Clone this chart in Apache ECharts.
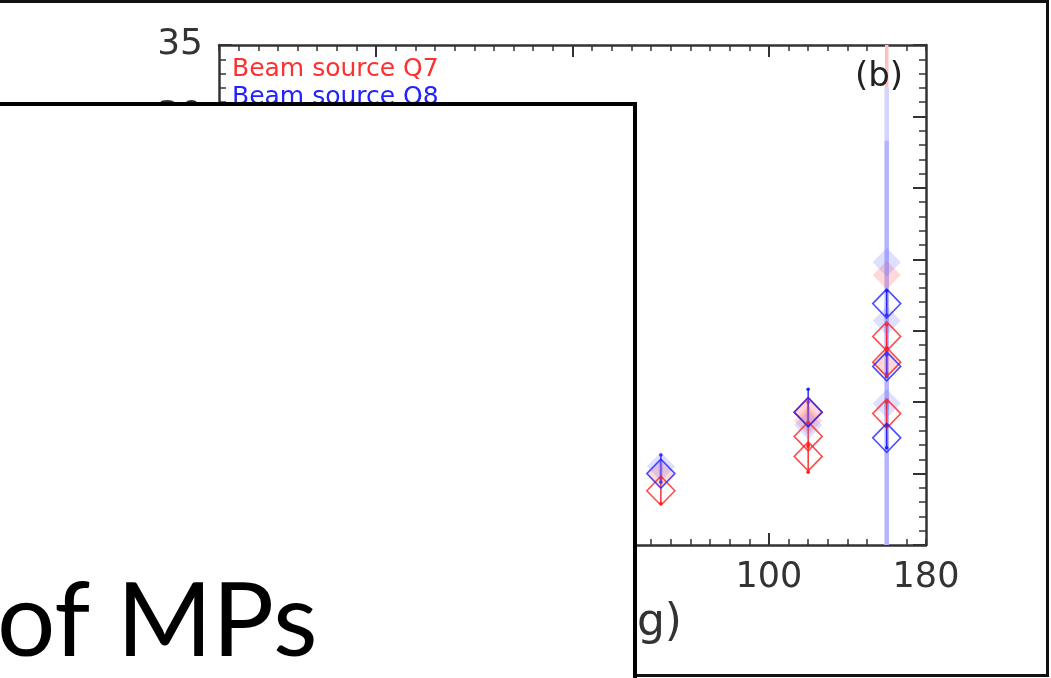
<!DOCTYPE html>
<html>
<head>
<meta charset="utf-8">
<script src="https://cdn.jsdelivr.net/npm/echarts@6/dist/echarts.min.js"></script>
<style>
html, body { margin: 0; padding: 0; background: #fff; }
#chart { width: 1051px; height: 678px; }
</style>
</head>
<body>
<div id="chart"></div>
<script>
// [angle, value, errLow, errHigh]
var q7Open = [[45, 3.8, 2.9, 4.7], [120, 9.3, 8.6, 10.0], [120, 7.6, 6.9, 8.4], [120, 6.2, 5.1, 7.0],
              [160, 14.6, 13.8, 15.4], [160, 12.8, 12.0, 13.6], [160, 9.2, 8.4, 10.0]];
var q8Open = [[45, 5.0, 4.4, 6.3], [120, 9.3, 8.4, 10.9], [160, 16.9, 16.1, 17.8],
              [160, 12.5, 11.8, 13.3], [160, 7.5, 6.8, 8.3]];
var q7Sim = [[45, 4.9, 4.5, 5.3], [120, 9.3, 8.9, 9.7], [120, 8.7, 8.3, 9.1],
             [160, 18.9, 10.0, 40.0], [160, 12.7, 12.3, 13.1]];
var q8Sim = [[45, 5.5, 5.1, 5.9], [120, 8.4, 8.0, 8.8], [160, 19.8, 0, 32.0],
             [160, 15.7, 0, 28.3], [160, 9.9, 9.5, 10.3]];

var xMajor = [-100, 0, 100];
var xLabels = [-180, -100, 0, 100, 180];
var legendNames = ['Beam source Q7', 'Beam source Q8'];
var xTitle = 'Angle (deg)';

var FONT = 'DejaVu Sans';

function errorBars(color, width, caps) {
  return function (params, api) {
    var x = api.value(0);
    var p1 = api.coord([x, api.value(2)]);
    var p2 = api.coord([x, api.value(3)]);
    var kids = [{
      type: 'line',
      shape: { x1: p1[0], y1: p1[1], x2: p2[0], y2: p2[1] },
      style: { stroke: color, lineWidth: width }
    }];
    if (caps) {
      kids.push({ type: 'circle', shape: { cx: p1[0], cy: p1[1], r: 1.8 }, style: { fill: color } });
      kids.push({ type: 'circle', shape: { cx: p2[0], cy: p2[1], r: 1.8 }, style: { fill: color } });
    }
    return { type: 'group', children: kids };
  };
}

function barSeries(data, color, width, caps) {
  return {
    type: 'custom', data: data, clip: true,
    renderItem: errorBars(color, width, caps),
    encode: { x: 0, y: 1 }, silent: true
  };
}

function markSeries(data, fill, stroke, bw) {
  return {
    type: 'scatter', data: data, symbol: 'diamond', symbolSize: [28, 29],
    itemStyle: { color: fill, borderColor: stroke, borderWidth: bw },
    silent: true
  };
}

var axisLine = { show: true, onZero: false, lineStyle: { color: '#333', width: 2.5 } };

var chart = echarts.init(document.getElementById('chart'));
var option = {
  animation: false,
  grid: { left: 219, right: 125, top: 45, bottom: 133 },
  xAxis: [
    {
      type: 'value', position: 'bottom', min: -180, max: 180,
      axisLine: axisLine,
      axisTick: { inside: true, length: 12, customValues: xMajor, lineStyle: { color: '#333', width: 2 } },
      axisLabel: { customValues: xLabels, fontSize: 35, color: '#333', fontFamily: FONT, margin: 15 },
      splitLine: { show: false }
    },
    {
      type: 'value', position: 'bottom', min: -180, max: 180, interval: 10,
      axisLine: { show: false, onZero: false },
      axisTick: { inside: true, length: 6, lineStyle: { color: '#333', width: 1.5 } },
      axisLabel: { show: false }, splitLine: { show: false }
    },
    {
      type: 'value', position: 'top', min: -180, max: 180,
      axisLine: axisLine,
      axisTick: { inside: true, length: 12, customValues: xMajor, lineStyle: { color: '#333', width: 2 } },
      axisLabel: { show: false }, splitLine: { show: false }
    },
    {
      type: 'value', position: 'top', min: -180, max: 180, interval: 10,
      axisLine: { show: false, onZero: false },
      axisTick: { inside: true, length: 6, lineStyle: { color: '#333', width: 1.5 } },
      axisLabel: { show: false }, splitLine: { show: false }
    }
  ],
  yAxis: [
    {
      type: 'value', position: 'left', min: 0, max: 35, interval: 5,
      axisLine: axisLine,
      axisTick: { inside: true, length: 13, lineStyle: { color: '#333', width: 2 } },
      minorTick: { show: true, splitNumber: 5, length: 7, lineStyle: { color: '#333', width: 1.5 } },
      axisLabel: { fontSize: 36, color: '#333', fontFamily: FONT, margin: 16 },
      splitLine: { show: false }
    },
    {
      type: 'value', position: 'right', min: 0, max: 35, interval: 5,
      axisLine: axisLine,
      axisTick: { inside: true, length: 13, lineStyle: { color: '#333', width: 2 } },
      minorTick: { show: true, splitNumber: 5, length: 7, lineStyle: { color: '#333', width: 1.5 } },
      axisLabel: { show: false },
      splitLine: { show: false }
    }
  ],
  series: [
    barSeries(q7Sim, '#ffc0c0', 3.5, false),
    barSeries(q8Sim, '#ffffff', 4.5, false),
    barSeries(q8Sim, 'rgba(90,90,255,0.26)', 4.5, false),
    markSeries(q7Sim, 'rgba(255,110,110,0.32)', 'rgba(0,0,0,0)', 0),
    markSeries(q8Sim, 'rgba(110,110,255,0.28)', 'rgba(0,0,0,0)', 0),
    barSeries(q7Open, '#ff2020', 1.4, true),
    barSeries(q8Open, '#2020ff', 1.4, true),
    markSeries(q7Open, 'rgba(0,0,0,0)', '#ff2020', 1.6),
    markSeries(q8Open, 'rgba(0,0,0,0)', '#2020ff', 1.6)
  ],
  graphic: [
    { type: 'text', z: 50, left: 232, top: 57,
      style: { text: legendNames[0], fill: '#ff3030', font: '25px "' + FONT + '"' } },
    { type: 'text', z: 50, left: 232, top: 85,
      style: { text: legendNames[1], fill: '#2222ff', font: '25px "' + FONT + '"' } },
    { type: 'text', z: 50, left: 855, top: 60,
      style: { text: '(b)', fill: '#222', font: '34px "' + FONT + '"' } },
    { type: 'text', z: 50, x: 682, y: 602,
      style: { text: xTitle, fill: '#333', font: '44px "' + FONT + '"', align: 'right' } },
    { type: 'rect', z: 60, shape: { x: -10, y: 1.5, width: 1057.5, height: 674 },
      style: { fill: 'none', stroke: '#111', lineWidth: 3 } },
    { type: 'rect', z: 100, shape: { x: -10, y: 104, width: 645, height: 620 },
      style: { fill: '#fff', stroke: '#000', lineWidth: 4 } },
    { type: 'text', z: 101, x: -3, y: 571,
      style: { text: 'of MPs', fill: '#000', font: '103px Lato' } }
  ]
};
chart.setOption(option);
</script>
</body>
</html>
